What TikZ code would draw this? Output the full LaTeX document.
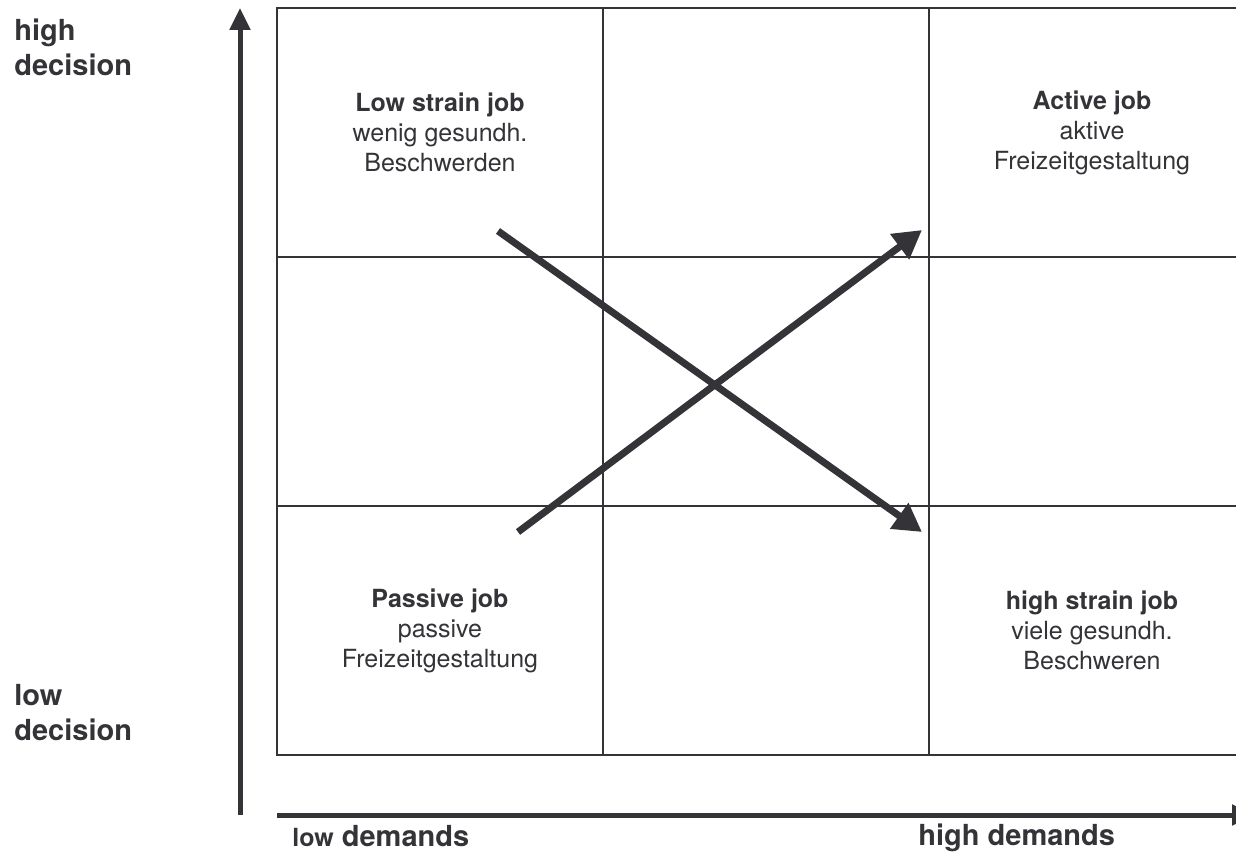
\documentclass[tikz,border=0pt]{standalone}
\usepackage{fontspec}
\setmainfont{TeX Gyre Heros}
\usepackage{tikz}
\usetikzlibrary{arrows.meta,positioning}

\definecolor{ink}{RGB}{52,52,56}

\begin{document}
\begin{tikzpicture}[x=0.5pt, y=-0.5pt]
			\tikzstyle{Cell}	= [rectangle, draw=ink, line width=0.75pt, minimum width=163pt, minimum height=124.5pt, inner sep=0pt, align=center, text=ink, font=\fontsize{12.5}{15}\selectfont]
			\tikzstyle{AxisText}	= [inner sep=0pt, text=ink, font=\bfseries\fontsize{14.5}{17.5}\selectfont]
			\tikzstyle{Axis}	= [ink, line width=2.5pt, -{Triangle[length=11pt, width=10pt]}]
			\tikzstyle{Trend}	= [ink, line width=3.5pt, -{Triangle[length=14pt, width=15pt]}]

			\clip (0,0) rectangle (1236,854);

			% grid of nine cells
			\node (c11) at (440,132.5) [Cell] {\textbf{Low strain job}\\wenig gesundh.\\Beschwerden};
			\node (c12) at (766,132.5) [Cell] {};
			\node (c13) at (1092,132.5) [Cell] {\textbf{Active job}\\aktive\\Freizeitgestaltung};
			\node (c21) at (440,381.5) [Cell] {};
			\node (c22) at (766,381.5) [Cell] {};
			\node (c23) at (1092,381.5) [Cell] {};
			\node (c31) at (440,630.5) [Cell] {\textbf{Passive job}\\passive\\Freizeitgestaltung};
			\node (c32) at (766,630.5) [Cell] {};
			\node (c33) at (1092,630.5) [Cell] {\textbf{high strain job}\\viele gesundh.\\Beschweren};

			% axis labels
			\node (highdec) at (14,19) [AxisText, anchor=north west, align=left] {high\\decision};
			\node (lowdec) at (14,684) [AxisText, anchor=north west, align=left] {low\\decision};
			\node (lowdem) at (292,846) [AxisText, anchor=base west] {{\fontsize{12.5}{14}\selectfont low} demands};
			\node (highdem) at (918,845) [AxisText, anchor=base west] {high demands};

			% axes
			\coordinate (yfoot) at (240,815);
			\coordinate (ytip) at (240,8);
			\coordinate (xfoot) at (277,815);
			\coordinate (xtip) at (1254,815);
			\draw [Axis] (yfoot) to (ytip);
			\draw [Axis] (xfoot) to (xtip);

			% crossing trends
			\coordinate (s1) at (498,231);
			\coordinate (t1) at (922,532);
			\coordinate (s2) at (518,532);
			\coordinate (t2) at (922,230);
			\draw [Trend] (s1) to (t1);
			\draw [Trend] (s2) to (t2);
		\end{tikzpicture}
\end{document}
